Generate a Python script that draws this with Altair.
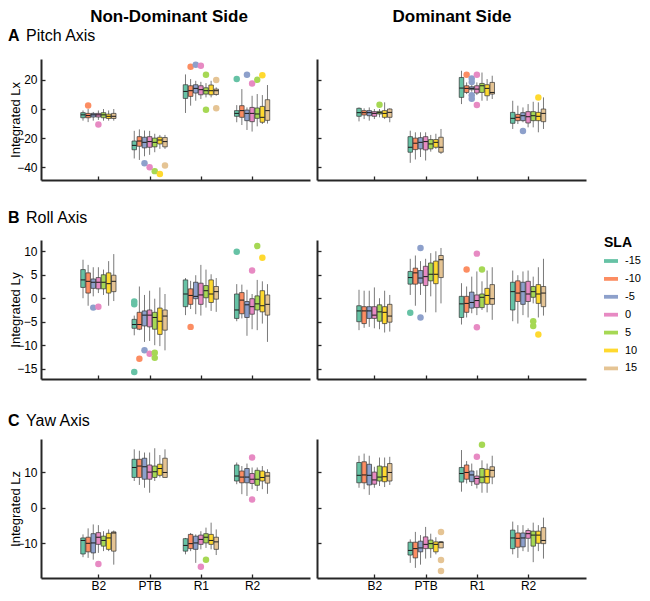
import altair as alt
import pandas as pd

CATEGORIES = ["B2", "PTB", "R1", "R2"]
SLA_LEVELS = ["-15", "-10", "-5", "0", "5", "10", "15"]
SLA_COLORS = ["#66c2a5", "#fc8d62", "#8da0cb", "#e78ac3", "#a6d854", "#ffd92f", "#e5c494"]

# Each stat array: one list per category (B2, PTB, R1, R2), 7 values for SLA -15..15
# ---------------- Pitch axis (Integrated Lx) ----------------
PITCH_ND_MED = [[-4, -4.5, -4, -4, -4, -5, -5], [-25, -22, -22.9, -22.4, -22.9, -21.3, -22.4],
                [12.1, 12.6, 14.2, 13.3, 12.6, 12.6, 12.6], [-3, -1.1, -3, -3, -3.4, -5.7, -1.1]]
PITCH_ND_Q1 = [[-6, -6, -5.5, -5.5, -6, -6.5, -6.5], [-28, -25.6, -26.7, -26.3, -26, -24, -26],
               [7.3, 8.7, 11, 9.8, 10.3, 9.8, 10], [-5, -5.7, -8, -8.7, -6.4, -9.1, -7.8]]
PITCH_ND_Q3 = [[-2.5, -3, -3, -3, -2.5, -3.5, -3], [-22, -19, -19.4, -19, -20, -19.4, -19.6],
               [16.7, 16, 16.7, 16, 14.6, 16.5, 13.7], [-1.1, 2.3, -0.7, 1.1, 0.7, 1.8, 6.4]]
PITCH_ND_LO = [[-8, -9, -8, -7.5, -8, -8, -8], [-34, -35, -32.5, -31.5, -29.7, -27.4, -27.4],
               [-2.7, 2.3, 5.7, 6.9, 8, 8, 9.1], [-9.1, -11, -14.4, -15.5, -11.9, -10.3, -10]]
PITCH_ND_HI = [[-1, 0, -2, -1, 0, -1, 0], [-15, -14, -14.8, -15, -17, -17.8, -17.8],
               [23.8, 20.6, 19.4, 18.7, 17.8, 19.4, 14.9], [2.7, 13.7, 1.1, 9.1, 10.3, 9.6, 16.5]]
PITCH_ND_OUT = [("B2", "-10", 2.5), ("B2", "0", -10.7), ("PTB", "-5", -37.3), ("PTB", "0", -40),
                ("PTB", "5", -42.7), ("PTB", "10", -44.6), ("PTB", "15", -38.9), ("R1", "-10", 29),
                ("R1", "-5", 30.4), ("R1", "0", 29.7), ("R1", "5", 23.5), ("R1", "5", -0.5),
                ("R1", "15", 19.9), ("R1", "15", 0.5), ("R2", "-15", 20.6), ("R2", "-5", 23.5),
                ("R2", "0", 17.6), ("R2", "5", 20.1), ("R2", "10", 23.3)]

PITCH_D_MED = [[-2.5, -2.5, -2.5, -3, -2.5, -3, -2.3], [-26.3, -23.5, -22.9, -22.4, -24, -22.9, -26.3],
               [14.4, 14.2, 14.2, 13.7, 16, 14.2, 11.4], [-6.4, -5.7, -4.6, -5.3, -4.6, -5, -3]]
PITCH_D_Q1 = [[-5, -4.1, -4.6, -5, -3.4, -5.7, -5.7], [-29.7, -27.9, -27.4, -28.1, -27.4, -26.3, -29.7],
              [8, 11.4, 13.3, 11, 11.4, 9.1, 10.3], [-9.8, -8, -8, -9.6, -8, -8, -8.7]]
PITCH_D_Q3 = [[0.5, -1.1, -1.1, -1.8, -1.6, -1.1, 0], [-19, -20, -19.7, -19, -21, -21, -19.4],
              [21.7, 16, 15.3, 16, 17.6, 16.7, 18.3], [-2.3, -3.7, -2.5, -1.8, -1.8, -2.3, 0]]
PITCH_D_LO = [[-8.5, -6.9, -8, -6.9, -5.7, -6.9, -9.1], [-37, -34.7, -33, -35.4, -29.3, -27.4, -30.9],
              [3.4, 10.3, 11.9, 9.6, 5.7, 5.7, 6.9], [-13.7, -10.3, -9.1, -12.6, -12.6, -16, -13.7]]
PITCH_D_HI = [[1.1, 0.5, 1.1, 0, 0, 4.6, 0.5], [-14.9, -16, -16, -16, -17.8, -17, -13.7],
              [26.3, 18.3, 16.5, 18.3, 25.1, 20.6, 22.9], [5.7, 2.3, 1.1, 3.4, 5, 4.6, 8]]
PITCH_D_OUT = [("B2", "5", 3), ("R1", "-10", 23.5), ("R1", "-5", 21), ("R1", "-5", 18.5),
               ("R1", "-5", 9.5), ("R1", "-5", 7), ("R1", "0", 23.5), ("R1", "0", 2.7),
               ("R2", "-5", -15.1), ("R2", "10", 8)]

# ---------------- Roll axis (Integrated Ly) ----------------
ROLL_ND_MED = [[3.9, 3.6, 3.4, 3.4, 3.4, 3.1, 3.6], [-5.6, -5.6, -3.6, -3.6, -4.1, -4.9, -3.8],
               [0.9, 0.6, 0.4, 0.7, 1.6, 0.9, 1.4], [-2.5, -0.4, -1.4, -1.8, -1.2, -1.6, -1.3]]
ROLL_ND_Q1 = [[2.3, 1.1, 2.1, 2, 2, 1.1, 1.4], [-6.4, -6.6, -5.9, -6.1, -6.6, -7.7, -6.8],
              [-1.8, -1.3, -0.1, -1.3, 0.1, -0.9, -0.2], [-4.3, -3.3, -4.1, -3.4, -2.5, -2.9, -3.6]]
ROLL_ND_Q3 = [[6.1, 5.4, 4.1, 4.4, 5, 5.4, 4.9], [-4.5, -3, -2.7, -2.5, -3, -2.1, -2.5],
              [3.9, 2, 3.4, 3.2, 2.7, 3.9, 2.5], [0.9, 1.2, -0.7, -0.1, 0.5, 1.6, 0.7]]
ROLL_ND_LO = [[0, -1.6, 0.4, 1.1, 0.7, -1.6, -0.6], [-7.9, -6.8, -9.3, -9.1, -10, -10.2, -11.1],
              [-3.6, -2.3, -3.4, -3.7, -2, -2.7, -2.9], [-4.9, -4.3, -8, -6.6, -6.8, -5.4, -9.3]]
ROLL_ND_HI = [[8.2, 7.1, 6.6, 6.6, 6.1, 7.9, 9.4], [-3.7, 2.5, 0.7, 1.6, -0.1, 2.3, 0.9],
              [4.3, 3.7, 4.9, 7.1, 6.1, 5.1, 4.3], [3, 2.9, 1.8, 0.9, 3.9, 3.6, 3]]
ROLL_ND_OUT = [("B2", "-5", -2), ("B2", "0", -1.8), ("PTB", "-15", -0.7), ("PTB", "-15", -1.3),
               ("PTB", "-15", -15.7), ("PTB", "-10", -12.9), ("PTB", "-5", -11.1), ("PTB", "0", -11.8),
               ("PTB", "5", -11.6), ("PTB", "5", -12.7), ("R1", "-10", -6.1), ("R2", "-15", 9.9),
               ("R2", "0", 5.9), ("R2", "5", 11.1), ("R2", "10", 8.6)]

ROLL_D_MED = [[-2.7, -2.7, -2.7, -3.6, -2.9, -3, -3.8], [4.4, 5.4, 4.3, 4.6, 5.1, 5.1, 8.2],
              [-1.2, -1.1, -0.9, -0.5, 0.2, 0.6, -0.1], [1.4, 1.1, 1.4, 0.9, 1.4, 0.9, 1.1]]
ROLL_D_Q1 = [[-5, -5.4, -4.3, -4.3, -4.9, -5.4, -5.1], [3, 3, 3.2, 2.7, 3.7, 3.1, 4.4],
             [-4.1, -3, -2.1, -2, -2, -1.3, -1.3], [-2.5, -0.7, -1.3, -0.7, 0.2, -1.1, -1.8]]
ROLL_D_Q3 = [[-1.6, -1.8, -1.8, -1.8, -1.4, -1.8, -1.3], [5.7, 6.4, 5.9, 6.8, 7.5, 7.9, 9.1],
             [0.4, 0.4, 1.3, 0.7, 0.9, 2.1, 2.9], [3.4, 3.7, 3.4, 3.6, 2.5, 2.9, 2.5]]
ROLL_D_LO = [[-6.8, -6.3, -6.1, -6.4, -6.6, -7.3, -7.1], [0.7, -1.6, 0.7, -3, 0.4, -3, -1.1],
             [-5.6, -4.1, -3.2, -3.6, -2.5, -3, -4.6], [-4.9, -5.4, -3.6, -4.1, -1.1, -4.1, -3.7]]
ROLL_D_HI = [[1.8, 1.6, 1.6, 2.3, 0, 1.6, 0.7], [8.4, 9.1, 7.9, 8.4, 9.6, 10, 10.7],
             [3.2, 2.5, 4.6, 5.7, 3.6, 5.9, 6.6], [5.9, 4.9, 5.7, 5.9, 4.6, 6.6, 8.4]]
ROLL_D_OUT = [("PTB", "-15", -3.1), ("PTB", "-5", 10.7), ("PTB", "-5", -4.1), ("R1", "-10", 6.1),
              ("R1", "0", 9.5), ("R1", "0", -6.2), ("R1", "5", 6.1), ("R2", "5", -4.9),
              ("R2", "5", -5.9), ("R2", "10", -7.7)]

# ---------------- Yaw axis (Integrated Lz) ----------------
YAW_ND_MED = [[-9.2, -10, -9.9, -8.3, -9.2, -8.5, -7.1], [11.3, 11.7, 11.5, 10, 10.1, 11, 9.9],
              [-10.6, -10.1, -9.9, -8.9, -8.3, -9.2, -9.6], [8.9, 8.6, 8.6, 8, 8, 8.5, 8.9]]
YAW_ND_Q1 = [[-13, -12.4, -12.7, -10.3, -10.8, -11.7, -12.2], [8.5, 8.5, 8, 8, 8.5, 9.1, 8.5],
             [-12.2, -11.5, -11.7, -10.3, -9.9, -10.3, -11.7], [7.5, 7, 7, 6.8, 6.3, 7.5, 6.9]]
YAW_ND_Q3 = [[-8.5, -8.3, -7.3, -7, -8, -7.2, -6.8], [13.6, 13.6, 13.9, 12, 11.7, 12.2, 13.9],
             [-8.7, -7.5, -8, -7.7, -7.3, -7.5, -8.3], [12, 10.3, 11, 9.6, 10.5, 10.3, 9.9]]
YAW_ND_LO = [[-13.9, -14.1, -14.6, -12.7, -12.2, -12.2, -16], [7.5, 6.4, 5.6, 4.2, 7.5, 8.5, 8.5],
             [-13.1, -12.2, -15.5, -11.7, -11.3, -11.7, -13.3], [6.6, 3.8, 3.3, 5.2, 4.7, 5.2, 3.9]]
YAW_ND_HI = [[-7.5, -5.8, -4.7, -4.9, -6.6, -6.1, -6.4], [16.4, 16, 15.5, 15.5, 16.7, 14.8, 16.4],
             [-8.5, -7.1, -7.5, -6.6, -5.6, -4.2, -6.1], [12.7, 11.7, 12.4, 11.3, 11.3, 11.7, 10.8]]
YAW_ND_OUT = [("B2", "0", -15.8), ("R1", "0", -16.6), ("R1", "5", -14.6), ("R2", "0", 14.1),
              ("R2", "0", 2.3)]

YAW_D_MED = [[9.1, 9.2, 9.1, 7.8, 8.6, 8.7, 9.9], [-12, -11.5, -11.3, -10.3, -10.1, -10.3, -9.7],
             [9.6, 9.9, 9.2, 8.2, 8.6, 8.7, 10.5], [-8.5, -8.6, -8.5, -7.3, -7.7, -7.7, -9.2]]
YAW_D_Q1 = [[7, 7, 6.4, 6.6, 7.5, 7.3, 7.5], [-13.3, -14.1, -12.4, -11.5, -11.5, -12.4, -11.3],
            [7.2, 8, 7.3, 6.6, 7, 6.9, 8.6], [-11.5, -11.1, -11, -8.6, -10.8, -10, -10.1]]
YAW_D_Q3 = [[12.7, 12.9, 12.2, 10, 11.7, 11.5, 12.4], [-9.7, -9.7, -9.4, -8.2, -9.1, -9.6, -9.6],
            [11.3, 12, 10.3, 8.9, 11, 10.8, 11.5], [-6.3, -7.1, -7.1, -6.4, -6.6, -6.6, -5.6]]
YAW_D_LO = [[5.6, 5.2, 3.6, 5.6, 6.1, 5.8, 6.4], [-15.5, -16.9, -16, -14.3, -14.1, -13.1, -11.3],
            [4.5, 6.8, 6.1, 5.4, 4.2, 4.2, 6.6], [-13.1, -14.1, -12.2, -12.4, -15.3, -12.2, -14.3]]
YAW_D_HI = [[14.6, 15.2, 14.6, 11.5, 14.1, 14.1, 14.3], [-8.9, -6.8, -7.7, -5.4, -7.3, -8.3, -9.4],
            [16.2, 13.1, 12.4, 10.5, 13.3, 12.4, 14.6], [-3.9, -4.9, -4.9, -5.8, -4.2, -4.9, -2.8]]
YAW_D_OUT = [("PTB", "15", -6.8), ("PTB", "15", -14.7), ("PTB", "15", -17.8), ("R1", "0", 14.3),
             ("R1", "5", 17.7)]

# axis setup
PITCH_DOMAIN = [-48.8, 34.4]
PITCH_TICKS = [-40, -20, 0, 20]
ROLL_DOMAIN = [-17.2, 12.4]
ROLL_TICKS = [-15, -10, -5, 0, 5, 10]
YAW_DOMAIN = [-19.75, 19.3]
YAW_TICKS = [-10, 0, 10]

FONT = "Liberation Sans"
DARK = "#262626"
PANEL_W = 269
X_DOMAIN = [-0.12, 5.13]
GROUP_STEP = 0.1
HALF_W = 0.044

color_scale = alt.Scale(domain=SLA_LEVELS, range=SLA_COLORS)
legend = alt.Legend(
    orient="none", legendX=563, legendY=177, title="SLA",
    titleFont=FONT, titleFontSize=14, titleFontWeight="bold", titleColor="#000", titlePadding=4,
    labelFont=FONT, labelFontSize=11, labelColor="#000", labelOffset=7,
    symbolType="M-1,-0.27L1,-0.27L1,0.27L-1,0.27Z", symbolSize=196, symbolStrokeWidth=0,
    rowPadding=5.9, padding=0,
)
label_expr = "[" + ",".join(["''"] + ["'%s'" % c for c in CATEGORIES]) + "][datum.value]"


def build_boxes(med, q1, q3, lo, hi):
    rows = []
    for ci, cat in enumerate(CATEGORIES):
        for si, sla in enumerate(SLA_LEVELS):
            pos = ci + 1 + (si - 3) * GROUP_STEP
            rows.append({"cat": cat, "SLA": sla, "pos": pos, "left": pos - HALF_W, "right": pos + HALF_W,
                         "med": med[ci][si], "q1": q1[ci][si], "q3": q3[ci][si],
                         "lo": lo[ci][si], "hi": hi[ci][si]})
    return pd.DataFrame(rows)


def build_outliers(points):
    rows = []
    for cat, sla, val in points:
        pos = CATEGORIES.index(cat) + 1 + (SLA_LEVELS.index(sla) - 3) * GROUP_STEP
        rows.append({"cat": cat, "SLA": sla, "pos": pos, "value": val})
    return pd.DataFrame(rows)


def text_layer(txt, x, y, size, weight, align="left"):
    return alt.Chart(pd.DataFrame({"t": [txt]})).mark_text(
        align=align, baseline="alphabetic", fontSize=size, fontWeight=weight, font=FONT, color="#000"
    ).encode(text="t:N", x=alt.value(x), y=alt.value(y))


def panel(stats, outliers, y_domain, y_ticks, y_title, height, left, bottom, texts):
    boxes = alt.Chart(build_boxes(*stats))
    outs = alt.Chart(build_outliers(outliers))

    x_axis = alt.Axis(values=[1, 2, 3, 4], labels=bottom, labelExpr=label_expr, title=None, grid=False,
                      domainColor=DARK, domainWidth=2, tickColor=DARK, tickWidth=1.3,
                      tickSize={"expr": "-4"}, labelPadding=6, labelFont=FONT, labelFontSize=12,
                      labelColor="#000")
    y_args = dict(values=y_ticks, labels=left, grid=False, domainColor=DARK, domainWidth=2,
                  tickColor=DARK, tickWidth=1.3, tickSize={"expr": "-4"}, labelPadding=8,
                  labelFont=FONT, labelFontSize=12, labelColor="#000")
    if left:
        y_args.update(title=y_title, titleX=-19, titleY=height / 2, titleAngle=270, titleBaseline="bottom",
                      titleAlign="center", titleFont=FONT, titleFontSize=13, titleFontWeight="normal",
                      titleColor="#000")
    else:
        y_args.update(title=None)
    y_axis = alt.Axis(**y_args)
    xs = alt.Scale(domain=X_DOMAIN, nice=False, zero=False)
    ys = alt.Scale(domain=y_domain, nice=False, zero=False)

    def X(f):
        return alt.X(f + ":Q", scale=xs, axis=x_axis)

    def Y(f):
        return alt.Y(f + ":Q", scale=ys, axis=y_axis)

    color = alt.Color("SLA:N", scale=color_scale, legend=legend)

    whisk = boxes.mark_rule(color="#7a7a7a", strokeWidth=1).encode(x=X("pos"), y=Y("lo"), y2="hi")
    fill = boxes.mark_bar().encode(x=X("left"), x2="right", y=Y("q1"), y2="q3", color=color)
    edge = boxes.mark_bar(fillOpacity=0, stroke="#333333", strokeWidth=0.7).encode(
        x=X("left"), x2="right", y=Y("q1"), y2="q3")
    med = boxes.mark_rule(color="#1a1a1a", strokeWidth=1).encode(x=X("left"), x2="right", y=Y("med"))
    pts = outs.mark_circle(size=42, opacity=1).encode(x=X("pos"), y=Y("value"), color=color)

    layers = [whisk, fill, edge, med, pts] + texts
    return alt.layer(*layers).properties(width=PANEL_W, height=height)


def row_labels(letter, name, y):
    return [text_layer(letter, -33, y, 16, "bold"), text_layer(name, -15, y, 16, "normal")]


H_A, H_B, H_C = 121, 139, 139

panels = [
    panel((PITCH_ND_MED, PITCH_ND_Q1, PITCH_ND_Q3, PITCH_ND_LO, PITCH_ND_HI), PITCH_ND_OUT,
          PITCH_DOMAIN, PITCH_TICKS, "Integrated Lx", H_A, True, False,
          row_labels("A", "Pitch Axis", -18.5) + [text_layer("Non-Dominant Side", 128, -37, 17, "bold", "center")]),
    panel((PITCH_D_MED, PITCH_D_Q1, PITCH_D_Q3, PITCH_D_LO, PITCH_D_HI), PITCH_D_OUT,
          PITCH_DOMAIN, PITCH_TICKS, "Integrated Lx", H_A, False, False,
          [text_layer("Dominant Side", 135, -37, 17, "bold", "center")]),
    panel((ROLL_ND_MED, ROLL_ND_Q1, ROLL_ND_Q3, ROLL_ND_LO, ROLL_ND_HI), ROLL_ND_OUT,
          ROLL_DOMAIN, ROLL_TICKS, "Integrated Ly", H_B, True, False,
          row_labels("B", "Roll Axis", -17.3)),
    panel((ROLL_D_MED, ROLL_D_Q1, ROLL_D_Q3, ROLL_D_LO, ROLL_D_HI), ROLL_D_OUT,
          ROLL_DOMAIN, ROLL_TICKS, "Integrated Ly", H_B, False, False, []),
    panel((YAW_ND_MED, YAW_ND_Q1, YAW_ND_Q3, YAW_ND_LO, YAW_ND_HI), YAW_ND_OUT,
          YAW_DOMAIN, YAW_TICKS, "Integrated Lz", H_C, True, True,
          row_labels("C", "Yaw Axis", -13.4)),
    panel((YAW_D_MED, YAW_D_Q1, YAW_D_Q3, YAW_D_LO, YAW_D_HI), YAW_D_OUT,
          YAW_DOMAIN, YAW_TICKS, "Integrated Lz", H_C, False, True, []),
]

chart = alt.concat(
    *panels, columns=2, spacing={"row": 60, "column": 7}, bounds="flush", align="each"
).resolve_scale(
    x="independent", y="independent", color="shared"
).properties(padding=0).configure_view(stroke=None)

chart.save("out.html", embed_options={"renderer": "svg", "actions": False})
